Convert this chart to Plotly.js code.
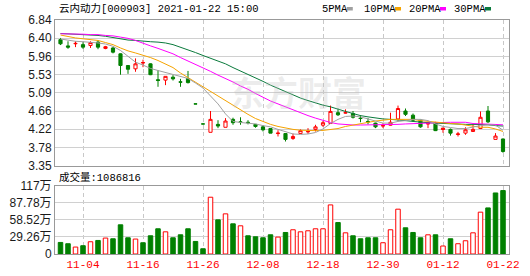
<!DOCTYPE html>
<html><head><meta charset="utf-8">
<script src="https://cdn.plot.ly/plotly-3.0.1.min.js"></script>
<style>html,body{margin:0;padding:0;background:#fff;}#chart{width:530px;height:276px;}</style>
</head><body><div id="chart"></div>
<script>
// ---------------- data ----------------
const dates = ['10-30','11-02','11-03','11-04','11-05','11-06','11-09','11-10','11-11','11-12','11-13',
  '11-16','11-17','11-18','11-19','11-20','11-23','11-24','11-25','11-26','11-27','11-30',
  '12-01','12-02','12-03','12-04','12-07','12-08','12-09','12-10','12-11','12-14','12-15','12-16','12-17','12-18',
  '12-21','12-22','12-23','12-24','12-25','12-28','12-29','12-30','12-31',
  '01-04','01-05','01-06','01-07','01-08','01-11','01-12','01-13','01-14','01-15','01-18','01-19','01-20','01-21','01-22'];
const openP  = [6.37,6.22,6.27,6.25,6.23,6.31,6.20,6.17,6.03,5.75,5.67,5.81,5.79,5.41,5.40,5.47,5.36,5.44,4.83,4.35,
  4.15,4.34,4.27,4.46,4.40,4.39,4.34,4.28,4.24,4.12,4.12,4.00,4.12,4.16,4.22,4.32,4.36,4.62,4.61,4.60,
  4.49,4.41,4.37,4.30,4.32,4.47,4.66,4.56,4.44,4.38,4.37,4.25,4.22,4.10,4.13,4.17,4.24,4.66,3.98,3.99];
const highP  = [6.41,6.33,6.33,6.31,6.33,6.36,6.22,6.19,6.04,5.76,5.92,5.89,5.80,5.64,5.49,5.52,5.43,5.62,4.83,4.35,
  4.66,4.44,4.49,4.50,4.51,4.44,4.35,4.32,4.24,4.20,4.12,4.12,4.22,4.25,4.33,4.42,4.79,4.72,4.70,4.66,
  4.56,4.49,4.38,4.37,4.62,4.79,4.72,4.60,4.45,4.40,4.40,4.26,4.24,4.16,4.27,4.34,4.65,4.78,4.13,4.00];
const lowP   = [6.24,6.15,6.19,6.15,6.17,6.14,6.14,6.04,5.53,5.55,5.60,5.71,5.52,5.24,5.28,5.39,5.24,5.32,4.83,4.35,
  4.15,4.25,4.27,4.33,4.33,4.34,4.26,4.17,4.13,4.05,3.93,3.97,4.11,4.11,4.17,4.28,4.36,4.54,4.60,4.48,
  4.39,4.34,4.25,4.25,4.31,4.43,4.54,4.40,4.26,4.25,4.18,4.14,4.07,4.05,4.09,4.16,4.23,4.37,3.98,3.66];
const closeP = [6.27,6.19,6.28,6.19,6.30,6.19,6.16,6.07,5.75,5.66,5.79,5.82,5.53,5.39,5.49,5.43,5.35,5.34,4.83,4.35,
  4.46,4.30,4.42,4.38,4.39,4.38,4.29,4.21,4.13,4.13,3.98,4.05,4.19,4.17,4.28,4.38,4.65,4.57,4.62,4.51,
  4.48,4.40,4.28,4.31,4.39,4.72,4.58,4.44,4.28,4.35,4.19,4.22,4.13,4.11,4.21,4.22,4.51,4.40,4.06,3.69];
// candle style: r = red hollow, g = green filled, f = red filled
const candleStyle = ['g','g','f','g','r','g','f','g','g','g', 'r','f','g','g','r','g','g','g','g','g',
  'r','g','r','g','g','g','g','g','g','f', 'g','r','r','f','r','r','r','g','f','g',
  'g','g','g','f','r','r','g','g','g','f', 'g','f','g','f','r','r','r','g','r','g'];
const ma5  = [6.385,6.35,6.33,6.32,6.31,6.29,6.265,6.21,6.11,5.97,5.83,5.76,5.68,5.63,5.58,5.53,5.49,5.44,5.33,5.21,
  5.02,4.83,4.59,4.41,4.385,4.37,4.35,4.31,4.28,4.22,4.16,4.11,4.10,4.11,4.145,4.23,4.36,4.46,4.53,4.54,
  4.52,4.47,4.41,4.37,4.37,4.41,4.43,4.46,4.46,4.43,4.35,4.29,4.265,4.24,4.24,4.28,4.31,4.33,4.32,4.20];
const ma10 = [6.48,6.44,6.41,6.39,6.37,6.35,6.30,6.25,6.17,6.10,6.05,6.00,5.94,5.87,5.79,5.70,5.57,5.46,5.355,5.24,
  5.115,5.01,4.90,4.79,4.68,4.58,4.48,4.41,4.34,4.29,4.25,4.22,4.20,4.19,4.19,4.195,4.21,4.24,4.29,4.325,
  4.36,4.40,4.42,4.44,4.46,4.46,4.46,4.46,4.43,4.41,4.385,4.37,4.36,4.35,4.325,4.29,4.27,4.27,4.23,4.17];
const ma20 = [6.51,6.51,6.50,6.50,6.49,6.49,6.47,6.46,6.43,6.40,6.35,6.28,6.22,6.16,6.10,6.03,5.94,5.86,5.77,5.69,
  5.61,5.52,5.44,5.355,5.26,5.18,5.08,4.98,4.90,4.83,4.76,4.68,4.61,4.55,4.49,4.43,4.385,4.35,4.33,4.325,
  4.325,4.325,4.325,4.33,4.34,4.34,4.35,4.36,4.37,4.37,4.38,4.385,4.39,4.39,4.39,4.36,4.35,4.35,4.34,4.33];
const ma30 = [6.517,6.51,6.50,6.49,6.48,6.47,6.45,6.42,6.38,6.36,6.35,6.33,6.32,6.31,6.29,6.25,6.19,6.13,6.06,5.99,
  5.92,5.85,5.79,5.70,5.62,5.535,5.45,5.37,5.28,5.20,5.13,5.04,4.97,4.91,4.85,4.80,4.76,4.70,4.65,4.60,
  4.55,4.52,4.49,4.47,4.46,4.45,4.43,4.41,4.39,4.38,4.37,4.36,4.35,4.35,4.34,4.34,4.34,4.33,4.31,4.30];
// volume in 万 (10k shares)
const volume = [19.8,17.6,11.9,14.2,21.0,23.2,27.3,26.1,50.0,27.8, 25.6,19.3,31.2,43.2,38.0,27.8,32.9,43.2,21.5,9.0,
  97.3,58.5,68.8,51.7,48.3,31.2,29.5,27.8,32.9,29.0, 36.9,41.5,38.0,39.8,43.2,43.2,84.1,53.9,36.3,31.2,
  26.1,27.8,27.8,19.3,41.5,76.8,44.9,36.9,27.8,32.9, 32.9,13.7,26.1,17.6,22.7,36.3,71.7,79.0,104.6,108.7];
const volStyle = ['g','g','r','g','r','g','r','g','g','g', 'r','g','g','g','r','g','g','g','g','g',
  'r','g','r','g','r','g','g','g','g','r', 'g','r','r','r','r','r','r','g','r','g',
  'g','g','g','r','r','r','g','g','g','r', 'g','r','g','r','r','r','r','g','g','g'];
const xTicks = ['11-04','11-16','11-26','12-08','12-18','12-30','01-12','01-22'];
const priceTicks = [3.35,3.78625,4.2225,4.65875,5.095,5.53125,5.9675,6.40375,6.84];
const priceTickText = ['3.35','3.78','4.22','4.66','5.09','5.53','5.96','6.40','6.84'];
const volTicks = [0,29.26,58.52,87.78,117.04];
const volTickText = ['0','29.26万','58.52万','87.78万','117万'];
const titleText = '云内动力[000903] 2021-01-22 15:00';
const volLabel = '成交量:1086816';
const maNames = ['5PMA','10PMA','20PMA','30PMA'];

// ---------------- styling ----------------
const RED = '#ff0000', GREEN = '#008000';
const maColors = ['#a0a0a0','#f5a300','#ff00ff','#0a7a3c'];
const L = 55, R = 21, T = 20, B = 22, W = 530, H = 276;
const pw = W - L - R, ph = H - T - B;
const px = x => (x - L) / pw;
const py = y => (H - B - y) / ph;

function candleTrace(kind) {
  const idx = dates.map((d, i) => i).filter(i => candleStyle[i] === kind);
  const fill = kind === 'r' ? '#ffffff' : (kind === 'g' ? GREEN : RED);
  const line = kind === 'g' ? GREEN : RED;
  return {
    type: 'candlestick', xaxis: 'x', yaxis: 'y',
    x: idx.map(i => dates[i]), open: idx.map(i => openP[i]), high: idx.map(i => highP[i]),
    low: idx.map(i => lowP[i]), close: idx.map(i => closeP[i]),
    increasing: {line: {color: line, width: 1}, fillcolor: fill},
    decreasing: {line: {color: line, width: 1}, fillcolor: fill},
    whiskerwidth: 0, hoverinfo: 'skip', showlegend: false
  };
}

const traces = [];
[ma30, ma20, ma10, ma5].forEach((m, k) => {
  const ci = 3 - k;
  traces.push({type: 'scatter', mode: 'lines', x: dates, y: m, xaxis: 'x', yaxis: 'y',
    line: {color: maColors[ci], width: 1}, hoverinfo: 'skip', showlegend: false});
});
traces.push(candleTrace('g'), candleTrace('r'), candleTrace('f'));
traces.push({
  type: 'bar', x: dates, y: volume, xaxis: 'x2', yaxis: 'y2',
  marker: {color: volStyle.map(s => s === 'g' ? GREEN : '#ffffff'),
           line: {color: volStyle.map(s => s === 'g' ? GREEN : RED), width: 1}},
  hoverinfo: 'skip', showlegend: false
});

const tickFont = {family: 'Liberation Sans, Noto Sans CJK SC, sans-serif', size: 12, color: '#1a1a1a'};
const monoFont = {family: 'Liberation Mono, Noto Sans CJK SC, monospace', size: 10.5, color: '#000'};
const xBase = {
  type: 'category', categoryorder: 'array', categoryarray: dates, range: [-0.733, 59.8],
  tickmode: 'array', tickvals: xTicks, ticktext: xTicks, ticks: '',
  showgrid: true, gridcolor: '#c8c8c8', griddash: '4px,3px', gridwidth: 1,
  showline: true, mirror: true, linecolor: '#999999', linewidth: 1, zeroline: false,
  rangeslider: {visible: false}, fixedrange: true
};
const domPriceBottom = py(165.7), domVolTop = py(185.7);

const annotations = [
  {xref: 'paper', yref: 'paper', x: px(57), y: py(9), xanchor: 'left', yanchor: 'middle',
   text: titleText, showarrow: false, font: monoFont},
  {xref: 'paper', yref: 'paper', x: px(57), y: py(177), xanchor: 'left', yanchor: 'middle',
   text: volLabel, showarrow: false, font: monoFont},
  {xref: 'paper', yref: 'paper', x: px(298), y: py(91), xanchor: 'center', yanchor: 'middle',
   text: '<b>东方财富</b>', showarrow: false,
   font: {family: 'Noto Sans CJK SC', size: 34, color: 'rgba(190,190,190,0.28)'}}
];
const legendX = [320, 362, 407, 452];
const shapes = [];
maNames.forEach((n, k) => {
  annotations.push({xref: 'paper', yref: 'paper', x: px(legendX[k]), y: py(9), xanchor: 'left', yanchor: 'middle',
    text: n, showarrow: false, font: monoFont});
  const sx = legendX[k] + n.length * 6.2 + 2;
  shapes.push({type: 'rect', xref: 'paper', yref: 'paper', x0: px(sx), x1: px(sx + 6), y0: py(10.5), y1: py(7),
    fillcolor: maColors[k], line: {width: 0}});
});

const layout = {
  width: W, height: H, margin: {l: L, r: R, t: T, b: B, pad: 0},
  paper_bgcolor: '#ffffff', plot_bgcolor: '#ffffff', showlegend: false, hovermode: false,
  boxgap: 0.4, bargap: 0.4, boxmode: 'overlay',
  font: tickFont,
  xaxis: Object.assign({}, xBase, {anchor: 'y', showticklabels: false}),
  xaxis2: Object.assign({}, xBase, {anchor: 'y2', showticklabels: true,
    tickfont: {family: 'Liberation Mono, monospace', size: 11, color: RED}}),
  yaxis: {domain: [domPriceBottom, 1], range: [3.35, 6.84], tickmode: 'array', tickvals: priceTicks,
    ticktext: priceTickText, ticks: '', showgrid: true, gridcolor: '#d0d0d0', gridwidth: 1,
    showline: true, mirror: true, linecolor: '#999999', zeroline: false, tickfont: tickFont, fixedrange: true},
  yaxis2: {domain: [0, domVolTop], range: [0, 117.04], tickmode: 'array', tickvals: volTicks,
    ticktext: volTickText, ticks: '', showgrid: true, gridcolor: '#d0d0d0', gridwidth: 1,
    showline: true, mirror: true, linecolor: '#999999', zeroline: false, tickfont: tickFont, fixedrange: true},
  annotations: annotations, shapes: shapes
};
Plotly.newPlot('chart', traces, layout, {staticPlot: true, displayModeBar: false});
</script></body></html>
